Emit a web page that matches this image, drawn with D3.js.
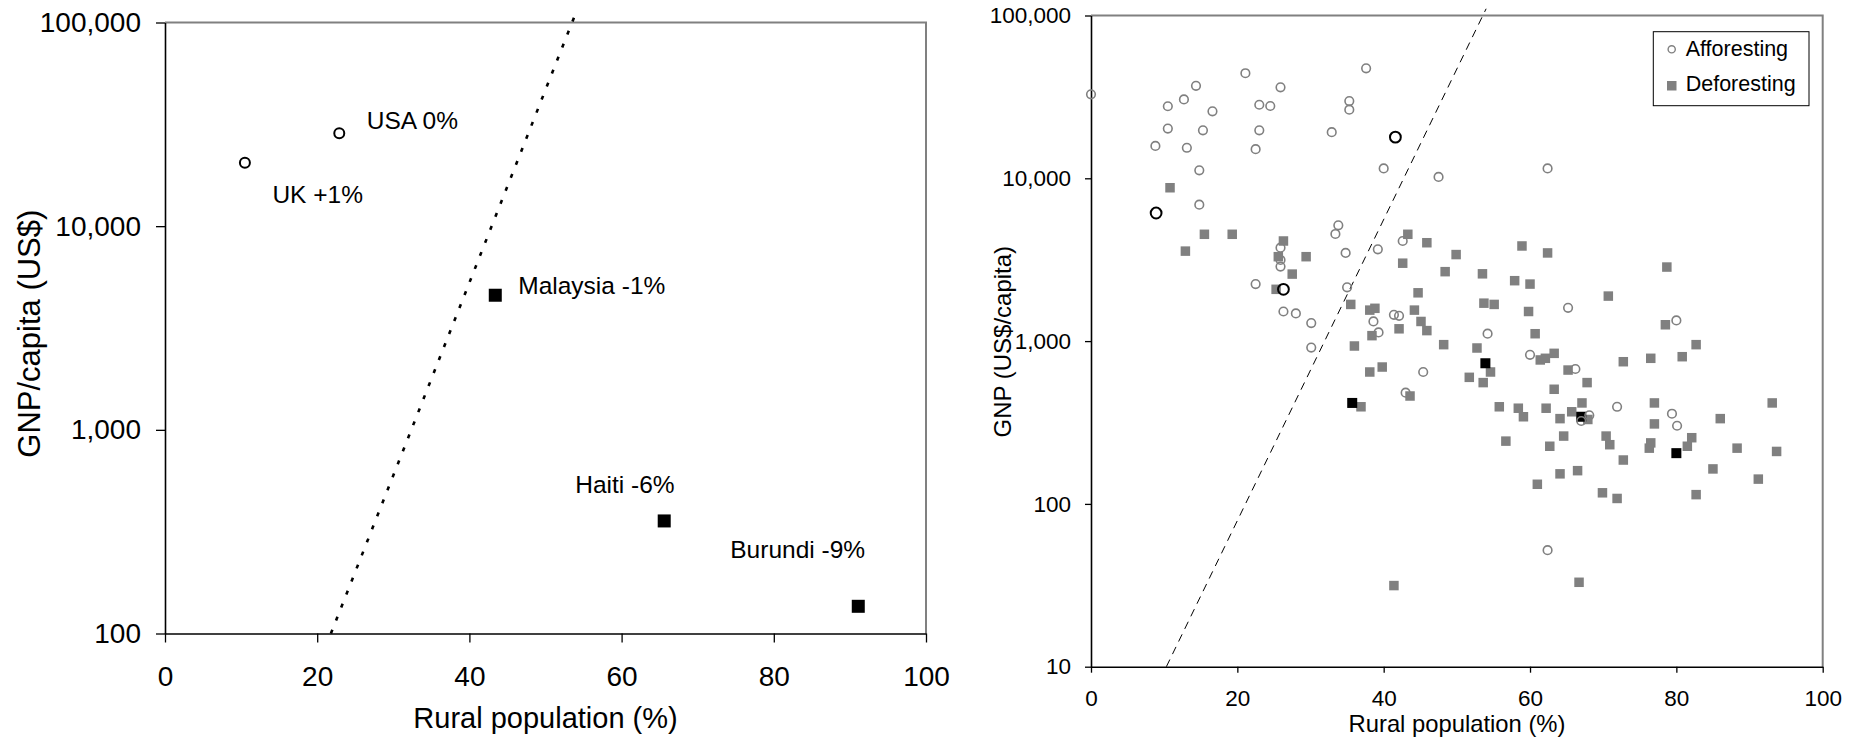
<!DOCTYPE html>
<html>
<head>
<meta charset="utf-8">
<script src="https://cdn.jsdelivr.net/npm/d3@7"></script>
<style>
  body { margin: 0; background: #fff; }
  svg { display: block; font-family: "Liberation Sans", Arial, sans-serif; }
</style>
</head>
<body>
<div id="chart"></div>
<script>
////////////////////////////////////////////////////////////
//////////////////////// Data //////////////////////////////
////////////////////////////////////////////////////////////

// Left panel: five example countries
var countryNames = ["UK", "USA", "Malaysia", "Haiti", "Burundi"];
var forestChange = ["+1%", "0%", "-1%", "-6%", "-9%"];
var countryRural = [10.5, 22.9, 43.4, 65.6, 91.1];
var countryGnp = [20500, 28600, 4580, 357, 136];
var countryTrend = ["aff", "aff", "def", "def", "def"];

// dotted boundary line (rural %, GNP)
var leftLineX = [21.8, 53.8];
var leftLineY = [100, 107000];

var leftXTicks = [0, 20, 40, 60, 80, 100];
var leftYTicks = [100, 1000, 10000, 100000];

// Right panel: all countries
var affRural = [0, 10.5, 12.7, 14.35, 16.6, 10.5, 15.3, 8.8, 13.1, 14.8, 14.8, 21.1, 23.0, 24.5, 25.9,
    23.0, 22.5, 37.6, 35.3, 35.3, 32.9, 40.0, 47.5, 33.8, 33.4, 25.9, 25.9, 25.9, 34.8, 22.5,
    35.0, 39.2, 42.6, 26.3, 28.0, 30.1, 38.6, 41.4, 42.1, 62.4, 65.2, 80.0, 30.1, 39.3, 54.2,
    60.0, 45.4, 43.0, 66.2, 68.1, 67.0, 71.9, 79.4, 80.1, 62.4];
var affGnp = [32800, 27700, 30500, 37000, 25800, 20200, 19700, 15800, 15400, 11200, 6890, 44200, 28300, 27800, 36200,
    19700, 15100, 47400, 29800, 26400, 19200, 11500, 10200, 5140, 4550, 3750, 3150, 2870, 3480, 2240,
    2140, 3660, 4120, 1520, 1480, 1290, 1320, 1450, 1430, 11500, 1600, 1340, 912, 1130, 1110,
    824, 646, 482, 674, 350, 323, 395, 358, 302, 52];

var defRural = [10.8, 15.5, 19.3, 12.9, 26.3, 25.6, 29.4, 27.5, 25.3, 35.5, 38.1, 38.8, 43.3, 45.9, 42.6,
    48.4, 44.7, 44.2, 45.1, 49.9, 53.5, 57.9, 60.0, 58.9, 62.4, 53.7, 55.1, 59.8, 70.7, 78.7,
    78.5, 45.9, 42.1, 38.4, 36.0, 48.2, 52.75, 60.7, 61.4, 62.1, 63.3, 54.6, 51.7, 53.6, 43.6,
    65.2, 67.8, 63.3, 72.75, 76.5, 80.8, 82.7, 55.8, 58.4, 59.1, 62.2, 64.1, 65.7, 67.1, 67.9,
    77.0, 77.0, 93.1, 86.0, 82.1, 81.5, 88.3, 93.7, 85.0, 91.2, 82.7, 76.5, 76.3, 70.4, 70.9,
    72.75, 64.6, 62.7, 56.7, 64.1, 66.5, 61.0, 69.9, 71.9, 66.7, 38.1, 39.8, 36.9, 41.4];
var defGnp = [8750, 4530, 4530, 3570, 4120, 3300, 3300, 2580, 2080, 1680, 1550, 1590, 4530, 4020, 3010,
    2670, 1980, 1550, 1320, 3400, 2590, 2350, 2240, 3840, 3480, 1710, 1680, 1520, 1890, 2850,
    1260, 1160, 1190, 1080, 933, 951, 907, 1110, 766, 784, 841, 646, 599, 556, 460,
    664, 556, 506, 747, 784, 802, 951, 395, 387, 343, 387, 334, 368, 417, 330,
    417, 310, 417, 334, 255, 226, 220, 210, 164, 142, 114, 237, 220, 261, 231,
    186, 261, 226, 243, 153, 160, 132, 117, 108, 33, 646, 693, 395, 31.5];

// highlighted countries (black)
var hiAffRural = [41.6, 8.9, 26.3];
var hiAffGnp = [17900, 6120, 2080];
var hiDefRural = [35.7, 53.9, 67.0, 80.0];
var hiDefGnp = [417, 731, 343, 205];

// dashed boundary line
var rightLineX = [10.3, 54.0];
var rightLineY = [10, 110000];

var rightXTicks = [0, 20, 40, 60, 80, 100];
var rightYTicks = [10, 100, 1000, 10000, 100000];
var legendNames = ["Afforesting", "Deforesting"];

////////////////////////////////////////////////////////////
//////////////////////// Set-up ////////////////////////////
////////////////////////////////////////////////////////////

var grey = "#808080";
var fmt = d3.format(",");

var svg = d3.select("#chart").append("svg")
    .attr("width", 1861)
    .attr("height", 737);

//Draw the plot frame: grey top/right, black axes
function frame(g, x0, x1, y0, y1) {
    g.append("path")
        .attr("d", "M" + x0 + "," + y0 + "H" + x1 + "V" + y1)
        .style("fill", "none").style("stroke", grey).style("stroke-width", 2);
}

function styleAxis(sel, size) {
    sel.attr("font-family", null).attr("font-size", null);
    sel.selectAll("text").style("font-size", size + "px").style("fill", "#000");
    sel.selectAll("line").style("stroke", "#000").style("stroke-width", 1.3);
    sel.select(".domain").style("stroke", "#000").style("stroke-width", 1.6);
}

////////////////////////////////////////////////////////////
//////////////////////// Left chart ////////////////////////
////////////////////////////////////////////////////////////

var L = { x0: 165, x1: 926, y0: 22.5, y1: 633.5 };
var xL = d3.scaleLinear().domain([0, 100]).range([L.x0, L.x1]);
var yL = d3.scaleLog().domain([100, 100000]).range([L.y1, L.y0]);

var gL = svg.append("g");
frame(gL, L.x0, L.x1, L.y0, L.y1);

gL.append("g")
    .attr("transform", "translate(0," + L.y1 + ")")
    .call(d3.axisBottom(xL).tickValues(leftXTicks).tickSizeInner(9).tickSizeOuter(0).tickPadding(24).tickFormat(d3.format("d")))
    .call(styleAxis, 28);

gL.append("g")
    .attr("transform", "translate(" + L.x0 + ",0)")
    .call(d3.axisLeft(yL).tickValues(leftYTicks).tickSizeInner(9).tickSizeOuter(0).tickPadding(15).tickFormat(fmt))
    .call(styleAxis, 28);

gL.append("text")
    .attr("x", 545.5).attr("y", 727.5)
    .style("text-anchor", "middle").style("font-size", "29px")
    .text("Rural population (%)");

gL.append("text")
    .attr("transform", "translate(40,333.7) rotate(-90)")
    .style("text-anchor", "middle").style("font-size", "31px")
    .text("GNP/capita (US$)");

//dotted line
gL.append("line")
    .attr("x1", xL(leftLineX[0])).attr("y1", yL(leftLineY[0]))
    .attr("x2", xL(leftLineX[1])).attr("y2", yL(leftLineY[1]))
    .style("stroke", "#000").style("stroke-width", 2.6).style("stroke-dasharray", "4,10");

var countries = countryNames.map(function (d, i) {
    return { name: d, change: forestChange[i], rural: countryRural[i], gnp: countryGnp[i], trend: countryTrend[i] };
});

gL.selectAll(".leftCircle")
    .data(countries.filter(function (d) { return d.trend === "aff"; }))
    .enter().append("circle")
    .attr("cx", function (d) { return xL(d.rural); })
    .attr("cy", function (d) { return yL(d.gnp); })
    .attr("r", 5)
    .style("fill", "#fff").style("stroke", "#000").style("stroke-width", 2);

gL.selectAll(".leftSquare")
    .data(countries.filter(function (d) { return d.trend === "def"; }))
    .enter().append("rect")
    .attr("x", function (d) { return xL(d.rural) - 6.5; })
    .attr("y", function (d) { return yL(d.gnp) - 6.5; })
    .attr("width", 13).attr("height", 13)
    .style("fill", "#000");

//label offsets from each point (pixels)
var labelOffset = {
    UK: [27.5, 40], USA: [27.5, -4], Malaysia: [23, -1], Haiti: [-89, -28], Burundi: [-128, -48]
};

gL.selectAll(".countryLabel")
    .data(countries)
    .enter().append("text")
    .attr("x", function (d) { return xL(d.rural) + labelOffset[d.name][0]; })
    .attr("y", function (d) { return yL(d.gnp) + labelOffset[d.name][1]; })
    .style("font-size", "24.5px")
    .text(function (d) { return d.name + " " + d.change; });

////////////////////////////////////////////////////////////
//////////////////////// Right chart ///////////////////////
////////////////////////////////////////////////////////////

var R = { x0: 1091, x1: 1822.7, y0: 15.5, y1: 666.7 };
var xR = d3.scaleLinear().domain([0, 100]).range([R.x0, R.x1]);
var yR = d3.scaleLog().domain([10, 100000]).range([R.y1, R.y0]);

var gR = svg.append("g");
frame(gR, R.x0, R.x1, R.y0, R.y1);

gR.append("g")
    .attr("transform", "translate(0," + R.y1 + ")")
    .call(d3.axisBottom(xR).tickValues(rightXTicks).tickSizeInner(6).tickSizeOuter(0).tickPadding(17).tickFormat(d3.format("d")))
    .call(styleAxis, 22.5);

gR.append("g")
    .attr("transform", "translate(" + R.x0 + ",0)")
    .call(d3.axisLeft(yR).tickValues(rightYTicks).tickSizeInner(6).tickSizeOuter(0).tickPadding(14).tickFormat(fmt))
    .call(styleAxis, 22.5);

gR.append("text")
    .attr("x", 1457).attr("y", 732)
    .style("text-anchor", "middle").style("font-size", "23.8px")
    .text("Rural population (%)");

gR.append("text")
    .attr("transform", "translate(1010.5,341.7) rotate(-90)")
    .style("text-anchor", "middle").style("font-size", "24px")
    .text("GNP (US$/capita)");

//dashed line
gR.append("line")
    .attr("x1", xR(rightLineX[0])).attr("y1", yR(rightLineY[0]))
    .attr("x2", xR(rightLineX[1])).attr("y2", yR(rightLineY[1]))
    .style("stroke", "#000").style("stroke-width", 1).style("stroke-dasharray", "8,6");

function squares(g, xs, ys, size, color) {
    g.selectAll(null)
        .data(d3.range(xs.length))
        .enter().append("rect")
        .attr("x", function (i) { return xR(xs[i]) - size / 2; })
        .attr("y", function (i) { return yR(ys[i]) - size / 2; })
        .attr("width", size).attr("height", size)
        .style("fill", color);
}

function circles(g, xs, ys, r, color, sw) {
    g.selectAll(null)
        .data(d3.range(xs.length))
        .enter().append("circle")
        .attr("cx", function (i) { return xR(xs[i]); })
        .attr("cy", function (i) { return yR(ys[i]); })
        .attr("r", r)
        .style("fill", "none").style("stroke", color).style("stroke-width", sw);
}

squares(gR, defRural, defGnp, 9.5, grey);
squares(gR, hiDefRural, hiDefGnp, 10, "#000");
circles(gR, affRural, affGnp, 4.3, grey, 1.6);
circles(gR, hiAffRural, hiAffGnp, 5.4, "#000", 2);

//Legend
var legend = gR.append("g");
legend.append("rect")
    .attr("x", 1653.3).attr("y", 31.7).attr("width", 155.7).attr("height", 74)
    .style("fill", "#fff").style("stroke", "#000").style("stroke-width", 1);
legend.append("circle")
    .attr("cx", 1671.7).attr("cy", 49.3).attr("r", 3.6)
    .style("fill", "none").style("stroke", grey).style("stroke-width", 1.4);
legend.append("rect")
    .attr("x", 1667).attr("y", 81).attr("width", 9.5).attr("height", 9.5)
    .style("fill", grey);
legend.selectAll(".legendText")
    .data(legendNames)
    .enter().append("text")
    .attr("x", 1685.7)
    .attr("y", function (d, i) { return 55.5 + i * 35.5; })
    .style("font-size", "21.5px")
    .text(function (d) { return d; });
</script>
</body>
</html>
